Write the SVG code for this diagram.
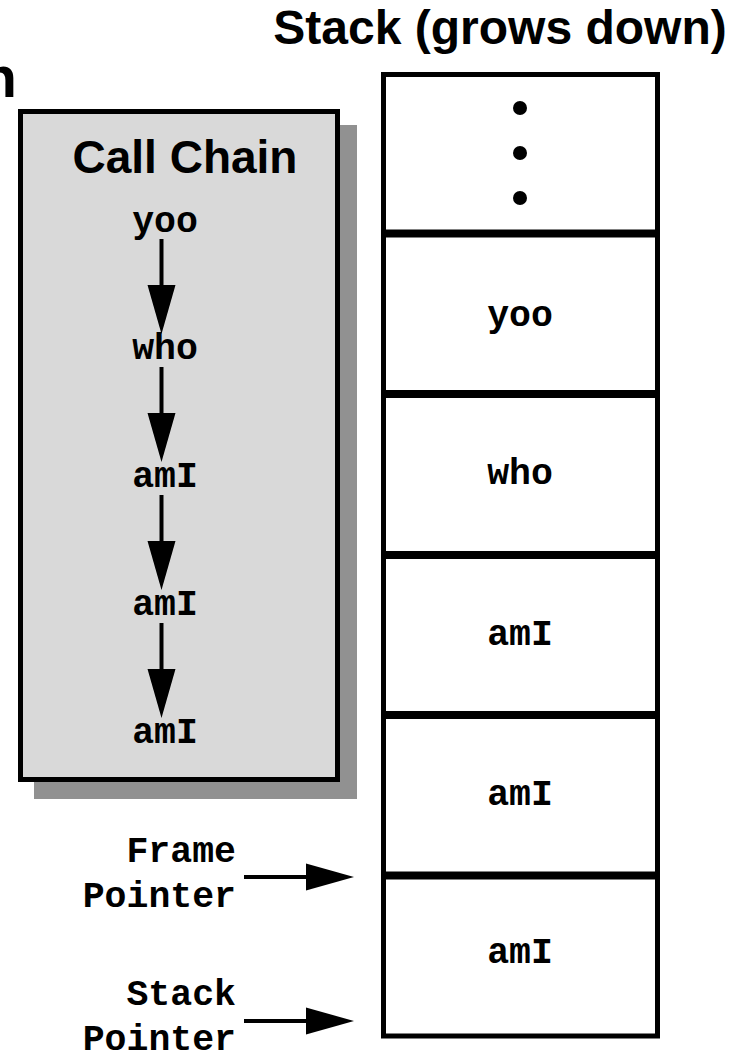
<svg xmlns="http://www.w3.org/2000/svg" width="743" height="1053" viewBox="0 0 743 1053">
  <style>
    .title { font-family: "Liberation Sans", Arial, sans-serif; font-weight: bold; fill: #000; }
    .code { font-family: "Liberation Mono", "Courier New", monospace; font-weight: bold; font-size: 36.5px; fill: #000; }
    .cell { fill: #fff; stroke: #000; stroke-width: 5; }
    .link { stroke: #000; stroke-width: 4; fill: none; }
    .head { fill: #000; }
  </style>
  <rect width="743" height="1053" fill="#fff"/>

  <!-- clipped heading at the left edge -->
  <text class="title" x="17" y="97" font-size="58" text-anchor="end">n</text>

  <!-- call chain panel with drop shadow -->
  <g id="call-chain">
    <rect x="34" y="125" width="323" height="674" fill="#919191"/>
    <rect x="20.5" y="111.5" width="317" height="668" fill="#d9d9d9" stroke="#000" stroke-width="5"/>
    <text class="title" x="185" y="173" font-size="46" text-anchor="middle">Call Chain</text>
  </g>
  <g id="chain-yoo"><text class="code" x="165" y="232" text-anchor="middle">yoo</text></g>
  <g id="chain-who"><text class="code" x="165" y="359" text-anchor="middle">who</text></g>
  <g id="chain-amI-1"><text class="code" x="165" y="487" text-anchor="middle">amI</text></g>
  <g id="chain-amI-2"><text class="code" x="165" y="615" text-anchor="middle">amI</text></g>
  <g id="chain-amI-3"><text class="code" x="165" y="743" text-anchor="middle">amI</text></g>

  <!-- stack -->
  <text class="title" x="500" y="44" font-size="48" text-anchor="middle">Stack (grows down)</text>
  <g id="frame-top">
    <rect class="cell" x="383.5" y="74.5" width="274" height="157.5"/>
    <circle cx="520" cy="108" r="7"/>
    <circle cx="520" cy="153" r="7"/>
    <circle cx="520" cy="198" r="7"/>
  </g>
  <g id="frame-yoo">
    <rect class="cell" x="383.5" y="235" width="274" height="157.5"/>
    <text class="code" x="520" y="326" text-anchor="middle">yoo</text>
  </g>
  <g id="frame-who">
    <rect class="cell" x="383.5" y="395.5" width="274" height="158"/>
    <text class="code" x="520" y="484" text-anchor="middle">who</text>
  </g>
  <g id="frame-amI-1">
    <rect class="cell" x="383.5" y="556.5" width="274" height="157"/>
    <text class="code" x="520" y="645" text-anchor="middle">amI</text>
  </g>
  <g id="frame-amI-2">
    <rect class="cell" x="383.5" y="716.5" width="274" height="157.5"/>
    <text class="code" x="520" y="805" text-anchor="middle">amI</text>
  </g>
  <g id="frame-amI-3">
    <rect class="cell" x="383.5" y="877" width="274" height="159"/>
    <text class="code" x="520" y="963" text-anchor="middle">amI</text>
  </g>

  <!-- pointer labels -->
  <g id="frame-pointer">
    <text class="code" x="236" y="862" text-anchor="end">Frame</text>
    <text class="code" x="236" y="907" text-anchor="end">Pointer</text>
  </g>
  <g id="stack-pointer">
    <text class="code" x="236" y="1005" text-anchor="end">Stack</text>
    <text class="code" x="236" y="1050" text-anchor="end">Pointer</text>
  </g>

  <!-- connectors -->
  <g id="connectors">
    <line class="link" x1="161.5" y1="239" x2="161.5" y2="286"/>
    <polygon class="head" points="147.5,285 175.5,285 161.5,334"/>
    <line class="link" x1="161.5" y1="367" x2="161.5" y2="414"/>
    <polygon class="head" points="147.5,413 175.5,413 161.5,462"/>
    <line class="link" x1="161.5" y1="495" x2="161.5" y2="542"/>
    <polygon class="head" points="147.5,541 175.5,541 161.5,590"/>
    <line class="link" x1="161.5" y1="623" x2="161.5" y2="670"/>
    <polygon class="head" points="147.5,669 175.5,669 161.5,718"/>

    <line class="link" x1="244" y1="877" x2="307" y2="877"/>
    <polygon class="head" points="306,863.5 306,890.5 354,877"/>
    <line class="link" x1="244" y1="1021" x2="307" y2="1021"/>
    <polygon class="head" points="306,1007.5 306,1034.5 354,1021"/>
  </g>
</svg>
